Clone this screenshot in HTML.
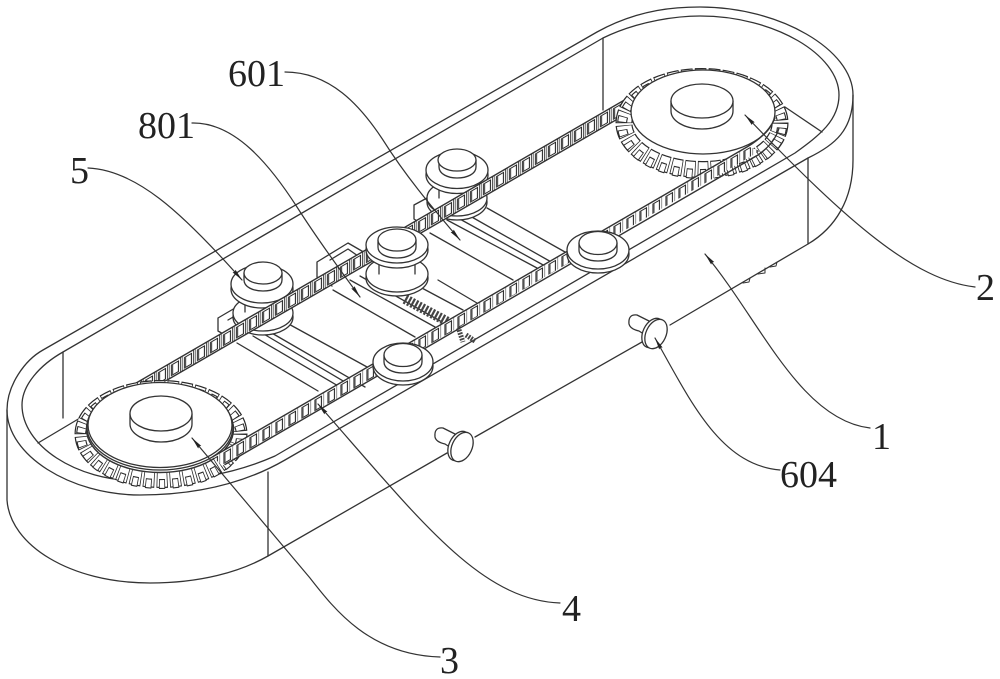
<!DOCTYPE html>
<html><head><meta charset="utf-8"><style>html,body{margin:0;padding:0;background:#fff}svg{display:block}text{font-family:"Liberation Serif","Noto Serif CJK SC",serif;font-size:38px;fill:#222}</style></head>
<body>
<svg width="1000" height="679" viewBox="0 0 1000 679" xmlns="http://www.w3.org/2000/svg">
<defs>
<marker id="a" markerWidth="14" markerHeight="8" refX="12" refY="3" orient="auto" markerUnits="userSpaceOnUse"><path d="M12,3 L0,1 L1,3 L0,5Z" fill="#222"/></marker>
<pattern id="p1" width="13" height="15" patternUnits="userSpaceOnUse" patternTransform="matrix(1,-.58,0,1,0,462)">
<rect width="13" height="15" fill="#fff"/><rect x="2.5" y="2.5" width="7" height="10.5" fill="#fff" stroke="#222" stroke-width="1.1"/><rect x="2.5" y="2.5" width="1.7" height="10.5" fill="#555"/><path d="M0,0V15M11.7,0V15" stroke="#222" stroke-width="1"/></pattern>
<pattern id="p2" width="13" height="15" patternUnits="userSpaceOnUse" patternTransform="matrix(1,-.58,0,1,0,580.2)">
<rect width="13" height="15" fill="#fff"/><rect x="3" y="2.5" width="6.5" height="10.5" fill="#fff" stroke="#222" stroke-width="1.1"/><rect x="3" y="2.5" width="1.6" height="10.5" fill="#555"/><path d="M11.7,0V15" stroke="#444" stroke-width=".6"/></pattern>
</defs>
<rect width="1000" height="679" fill="#fff"/>
<g fill="none" stroke="#333" stroke-width="1.3" stroke-linejoin="round" stroke-linecap="round">
<!-- tank -->
<path d="M597,32 C640,8 680,7 700,7 C780,7 853,50 853,95 C853,130 835,145 808,158 L285,460 C240,486 190,495 140,495 C70,495 7,455 7,410 C7,385 25,360 43,350 Z"/>
<path d="M603,38 C640,20 680,16 700,16 C775,16 839,55 839,95 C839,120 820,135 795,153 L275,456 C232,475 190,481 140,481 C75,481 22,445 22,405 C22,385 40,365 63,352 Z"/>
<path d="M7,410 L7,500 C10,545 70,583 150,583 C200,583 240,572 268,556 L447,453 M475,437 L642,342 M670,325 L808,244 C835,228 853,200 853,160 L853,95"/>
<path d="M63,352 V418 M38,443 L80,418 M603,38 V110 M785,107 L822,132 M808,158 V244 M268,472 V556"/>
<path d="M743,283 l6,-1 1,-4 M758,274 l7,-1 0,-5 M770,267 l6,-1 1,-4" stroke-width="1"/>
<!-- cross rails -->
<path d="M237,343 L318,391 M253,336 L345,390 M262,333 L355,388 M270,332 L365,387 M285,322 L378,373 M333,290 L415,337 M350,280 L435,327 M360,276 L442,322 M420,287 L463,310 M438,280 L482,306 M430,233 L513,280 M447,220 L537,268 M458,218 L545,266 M470,216 L553,263 M487,208 L565,252"/>
<path d="M218,318 L235,308 L250,317 M218,318 V331 L232,339 M228,320 L240,313 M317,262 L348,243 L367,254 M317,262 V277 L332,286 M330,260 L348,249 L358,256 M414,205 L427,198 L438,204 M414,205 V219 L428,228"/>
<path d="M405,299 L448,322" stroke="#444" stroke-width="10" stroke-dasharray="2.2 1.6" stroke-linecap="butt"/>
<path d="M458,327 L463,342 M466,335 L475,341" stroke="#444" stroke-width="5" stroke-dasharray="1.8 1.2" stroke-linecap="butt"/>
<!-- rollers behind upper chain -->
<g fill="#fff">
<ellipse cx="263" cy="317" rx="30" ry="18"/><ellipse cx="263" cy="313" rx="30" ry="18"/>
<rect x="245" y="292" width="36" height="20" stroke="none"/><path d="M245,292 V312 M281,292 V312"/>
<ellipse cx="262" cy="289" rx="31" ry="19"/><ellipse cx="262" cy="284" rx="31" ry="19"/>
<path d="M244,273 V280 C244,287 253,291 263,291 C273,291 282,287 282,280 V273"/><ellipse cx="263" cy="273" rx="19" ry="11"/>
<ellipse cx="457" cy="202" rx="30" ry="18"/><ellipse cx="457" cy="198" rx="30" ry="18"/>
<rect x="439" y="178" width="36" height="20" stroke="none"/><path d="M439,178 V198 M475,178 V198"/>
<ellipse cx="457" cy="175" rx="31" ry="18.5"/><ellipse cx="457" cy="170" rx="31" ry="18.5"/>
<path d="M439,160 V167 C439,174 448,178 457,178 C467,178 476,174 476,167 V160"/><ellipse cx="457" cy="160" rx="19" ry="11"/>
</g>
<!-- upper chain -->
<path d="M118,393.5 L640,91 L640,106 L118,408.5 Z" fill="url(#p1)" stroke-width="1.4"/>
<!-- left gear -->
<ellipse cx="161" cy="434" rx="86" ry="53" fill="#fff" stroke="none"/>
<ellipse cx="161" cy="434" rx="78" ry="45.5" stroke="#2a2a2a" stroke-width="17" pathLength="30" stroke-dasharray=".84 .16" stroke-linecap="butt"/>
<ellipse cx="161" cy="434" rx="78" ry="45.5" stroke="#fff" stroke-width="14.6" pathLength="30" stroke-dasharray=".72 .28" stroke-dashoffset="-.06" stroke-linecap="butt"/>
<ellipse cx="161" cy="436" rx="80" ry="48" stroke="#2a2a2a" stroke-width="10" pathLength="30" stroke-dasharray=".46 .54" stroke-dashoffset="-.2" stroke-linecap="butt"/>
<ellipse cx="161" cy="436" rx="80" ry="48" stroke="#fff" stroke-width="7.8" pathLength="30" stroke-dasharray=".34 .66" stroke-dashoffset="-.26" stroke-linecap="butt"/>
<ellipse cx="160" cy="429" rx="73.5" ry="43.5" fill="#fff" stroke-width="1.5"/>
<ellipse cx="160" cy="427" rx="73" ry="43" fill="#fff"/>
<ellipse cx="160" cy="425" rx="72" ry="42.5" fill="#fff"/>
<path d="M130,414 V424 C130,434 145,442 161,442 C178,442 192,434 192,424 V414" fill="#fff"/>
<ellipse cx="161" cy="413.5" rx="31" ry="17.5" fill="#fff"/>
<!-- right gear -->
<ellipse cx="702" cy="123" rx="86" ry="54" fill="#fff" stroke="none"/>
<ellipse cx="702" cy="123" rx="78" ry="46.5" stroke="#2a2a2a" stroke-width="17" pathLength="30" stroke-dasharray=".84 .16" stroke-linecap="butt"/>
<ellipse cx="702" cy="123" rx="78" ry="46.5" stroke="#fff" stroke-width="14.6" pathLength="30" stroke-dasharray=".72 .28" stroke-dashoffset="-.06" stroke-linecap="butt"/>
<ellipse cx="702" cy="125" rx="80" ry="49" stroke="#2a2a2a" stroke-width="10" pathLength="30" stroke-dasharray=".46 .54" stroke-dashoffset="-.2" stroke-linecap="butt"/>
<ellipse cx="702" cy="125" rx="80" ry="49" stroke="#fff" stroke-width="7.8" pathLength="30" stroke-dasharray=".34 .66" stroke-dashoffset="-.26" stroke-linecap="butt"/>
<ellipse cx="703" cy="112" rx="72" ry="42" fill="#fff"/>
<path d="M671,101 V111 C671,121 685,129 702,129 C719,129 733,121 733,111 V101" fill="#fff"/>
<ellipse cx="702" cy="101" rx="31" ry="17" fill="#fff"/>
<!-- lower chain -->
<path d="M213,456.7 L748,146.4 L760,151 L222,466" fill="url(#p2)" stroke="none"/>
<path d="M213,456.7 L748,146.4 C760,139 770,130 775,118 M225,464.5 L758,155 C768,148 776,139 779,128" stroke-width="1.4"/>
<!-- front rollers -->
<g fill="#fff">
<ellipse cx="397" cy="278" rx="31" ry="18"/><ellipse cx="397" cy="274" rx="31" ry="18"/>
<rect x="379" y="254" width="36" height="20" stroke="none"/><path d="M379,254 V274 M415,254 V274"/>
<ellipse cx="397" cy="250" rx="31" ry="18"/><ellipse cx="397" cy="245" rx="31" ry="18"/>
<path d="M378,240 V247 C378,254 387,258 397,258 C407,258 416,254 416,247 V240"/><ellipse cx="397" cy="240" rx="19" ry="11"/>
<ellipse cx="403" cy="366" rx="30" ry="19"/><ellipse cx="403" cy="362" rx="30" ry="19"/>
<path d="M384,355 V362 C384,369 393,373 403,373 C413,373 422,369 422,362 V355"/><ellipse cx="403" cy="355" rx="19" ry="11.5"/>
<ellipse cx="598" cy="254" rx="31" ry="19"/><ellipse cx="598" cy="250" rx="31" ry="19"/>
<path d="M579,243 V250 C579,257 588,261 598,261 C608,261 617,257 617,250 V243"/><ellipse cx="598" cy="243" rx="19" ry="11.5"/>
</g>
<!-- pins -->
<g fill="#fff">
<path d="M443,428 Q434,427 435,437 Q436,442 445,444 L456,451 L463,438 Z"/>
<ellipse cx="459" cy="446" rx="10" ry="15.5" transform="rotate(25 459 446)"/>
<ellipse cx="462" cy="447" rx="10" ry="15.5" transform="rotate(25 462 447)"/>
<path d="M637,315 Q628,314 629,324 Q630,329 639,331 L650,338 L657,325 Z"/>
<ellipse cx="653" cy="333" rx="10" ry="15.5" transform="rotate(25 653 333)"/>
<ellipse cx="656" cy="334" rx="10" ry="15.5" transform="rotate(25 656 334)"/>
</g>
<!-- leaders -->
<g stroke="#333" stroke-width="1.2">
<path d="M285,72 C330,72 360,105 383,140 C405,175 430,205 460,240" marker-end="url(#a)"/>
<path d="M192,123 C235,122 270,165 297,207 C318,240 340,270 360,297" marker-end="url(#a)"/>
<path d="M88,168 C135,170 180,210 242,280" marker-end="url(#a)"/>
<path d="M975,287 C915,280 850,225 745,115" marker-end="url(#a)"/>
<path d="M870,428 C800,420 760,320 705,254" marker-end="url(#a)"/>
<path d="M780,470 C720,465 690,400 655,338" marker-end="url(#a)"/>
<path d="M560,603 C480,600 420,520 318,404" marker-end="url(#a)"/>
<path d="M440,657 C370,655 335,610 310,578 L192,438" marker-end="url(#a)"/>
</g>
</g>
<text x="228" y="86">601</text>
<text x="138" y="138">801</text>
<text x="70" y="183">5</text>
<text x="976" y="300">2</text>
<text x="872" y="449">1</text>
<text x="780" y="487">604</text>
<text x="562" y="621">4</text>
<text x="440" y="673">3</text>
</svg>
</body></html>
